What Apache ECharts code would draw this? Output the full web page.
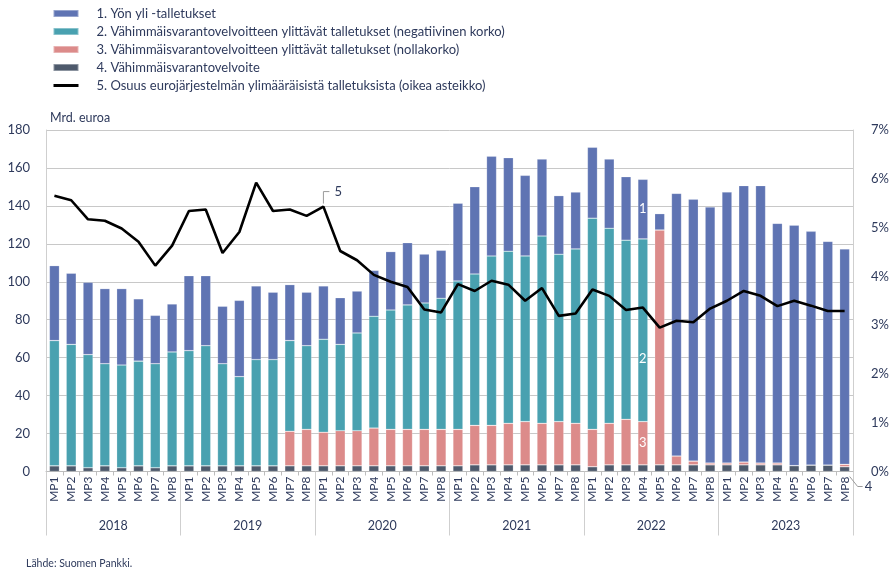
<!DOCTYPE html>
<html><head><meta charset="utf-8">
<script src="https://cdn.jsdelivr.net/npm/echarts@6/dist/echarts.min.js"></script>
<style>html,body{margin:0;padding:0;background:#fff}#c{width:892px;height:574px}</style>
</head><body><div id="c"></div>
<script>
const periods = ['MP1','MP2','MP3','MP4','MP5','MP6','MP7','MP8'];
const years = ['2018','2019','2020','2021','2022','2023'];
const categories = [];
years.forEach(function(){ periods.forEach(function(p){ categories.push(p); }); });

const seriesNames = [
  '1. Yön yli -talletukset',
  '2. Vähimmäisvarantovelvoitteen ylittävät talletukset (negatiivinen korko)',
  '3. Vähimmäisvarantovelvoitteen ylittävät talletukset (nollakorko)',
  '4. Vähimmäisvarantovelvoite',
  '5. Osuus eurojärjestelmän ylimääräisistä talletuksista (oikea asteikko)'
];

// 4. Reserve requirement (bn EUR)
const reserveReq = [
  3,3,2,3,2,3,2,3,
  3,3,3,3,3,3,3,3,
  3,3,3,3,3,3,3,3,
  3,3.5,3.5,3.5,3.5,3.5,3.5,3.5,
  2.5,3.5,3.5,3.5,3.5,3.5,3.5,3.5,
  3.5,3.5,3.5,3.5,3.1,3.4,3.4,2.5
];
// 3. Excess deposits, zero rate
const excessZero = [
  0,0,0,0,0,0,0,0,
  0,0,0,0,0,0,18.2,19.2,
  17.7,18.5,18.5,19.9,19.2,19.2,19.2,19.2,
  19.2,20.8,20.8,21.9,22.8,21.9,22.8,21.9,
  19.7,21.9,24.0,22.8,123.8,4.7,2.0,1.0,
  1.0,1.5,1.0,1.0,0,0,0,1.3
];
// 2. Excess deposits, negative rate
const excessNeg = [
  66,64,59.6,53.8,54.1,55.2,54.8,60,
  60.7,63.3,53.8,47,56,56,47.8,44.1,
  49,45.5,51.5,58.9,62.9,65.6,66.6,69.1,
  78.2,79.8,89.3,90.7,87.3,98.7,88.2,91.9,
  111.3,102.8,94.4,96.3,0,0,0,0,
  0,0,0,0,0,0,0,0
];
// 1. Overnight deposits
const overnight = [
  39.5,37.5,38.1,39.6,40.3,32.8,25.5,25.3,
  39.5,36.9,30.3,40.2,38.8,35.5,29.5,28.2,
  28.1,24.6,22.1,24.2,30.8,32.8,25.8,25.3,
  41,46,52.6,49.3,42.5,40.6,30.9,30,
  37.4,36.5,33.5,31.4,8.6,138.4,138,134.9,
  142.8,145.7,146.2,126.3,126.7,123.2,117.9,113.5
];
// 5. Share of Eurosystem excess deposits (%)
const share = [
  5.65,5.56,5.17,5.14,4.98,4.71,4.22,4.63,
  5.34,5.37,4.48,4.91,5.92,5.34,5.37,5.24,
  5.43,4.52,4.33,4.03,3.89,3.78,3.32,3.26,
  3.84,3.70,3.91,3.83,3.50,3.76,3.19,3.24,
  3.73,3.60,3.31,3.36,2.95,3.09,3.06,3.34,
  3.50,3.70,3.60,3.39,3.50,3.40,3.29,3.29
];
const leftTicks = {min:0, max:180, interval:20};
const rightTicks = {min:0, max:7, interval:1};

const colors = ['#5f74b3','#49a1b0','#dc8b8a','#4e5a6c','#000000'];
const txt = '#2e3a5c';
const font = 'Lato, "Open Sans", sans-serif';
const annIdx = 35;      // 2022 MP4 bar carries series numbers 1-3
const lineAnnIdx = 16;  // 2020 MP1 point carries series number 5

function withLabel(arr, idx, text, extra) {
  return arr.map(function(v,i){
    if (i !== idx) return v;
    return {value: v, label: Object.assign({show:true, formatter:text, color:'#fff', fontSize:13, fontFamily:font, position:'inside'}, extra||{})};
  });
}

const chart = echarts.init(document.getElementById('c'), null, {renderer:'canvas'});
const barBase = {type:'bar', stack:'a', barWidth:10, xAxisIndex:0, yAxisIndex:0, animation:false, z:2};
function bStyle(c){ return {color:c, borderColor:'rgba(255,255,255,0.35)', borderWidth:0.6}; }

chart.setOption({
  animation:false,
  textStyle:{fontFamily:font},
  title:[
    {text:'Mrd. euroa', left:45, top:106, textStyle:{fontSize:12.5, fontWeight:'normal', color:txt, fontFamily:font}},
    {text:'Lähde: Suomen Pankki.', left:21, top:553, textStyle:{fontSize:10.5, fontWeight:'normal', color:txt, fontFamily:font}}
  ],
  legend:{
    orient:'vertical', left:47, top:2, itemWidth:25, itemHeight:7, itemGap:5,
    textStyle:{fontSize:13, color:txt, fontFamily:font, padding:[0,0,0,13]},
    data:[
      {name:seriesNames[0], icon:'rect'},
      {name:seriesNames[1], icon:'rect'},
      {name:seriesNames[2], icon:'rect'},
      {name:seriesNames[3], icon:'rect'},
      {name:seriesNames[4], itemStyle:{opacity:0}, lineStyle:{color:'#000', width:3}}
    ]
  },
  grid:{left:46, right:26, top:130, bottom:102.5, containLabel:false},
  xAxis:[
    {type:'category', data:categories, position:'bottom',
     axisLine:{lineStyle:{color:'#bdbdbd', width:1}},
     axisTick:{show:true, interval:0, length:4, lineStyle:{color:'#bdbdbd'}},
     axisLabel:{interval:0, rotate:90, margin:5, fontSize:12, color:txt, fontFamily:font}},
    {type:'category', data:years, position:'bottom',
     axisLine:{show:false},
     axisTick:{show:true, length:64, lineStyle:{color:'#cfcfcf'}},
     axisLabel:{margin:48, fontSize:12.5, color:txt, fontFamily:font}}
  ],
  yAxis:[
    {type:'value', min:leftTicks.min, max:leftTicks.max, interval:leftTicks.interval,
     axisLine:{show:true, lineStyle:{color:'#cfcfcf'}}, axisTick:{show:false},
     splitLine:{lineStyle:{color:'#c8c8c8'}},
     axisLabel:{margin:16, fontSize:13, color:txt, fontFamily:font}},
    {type:'value', min:rightTicks.min, max:rightTicks.max, interval:rightTicks.interval,
     axisLine:{show:true, lineStyle:{color:'#cfcfcf'}}, axisTick:{show:false},
     splitLine:{show:false},
     axisLabel:{margin:18, fontSize:13, color:txt, fontFamily:font, formatter:'{value}%'}}
  ],
  series:[
    Object.assign({}, barBase, {name:seriesNames[3], data:reserveReq, color:colors[3], itemStyle:bStyle(colors[3])}),
    Object.assign({}, barBase, {name:seriesNames[2], data:withLabel(excessZero, annIdx, '3'), color:colors[2], itemStyle:bStyle(colors[2])}),
    Object.assign({}, barBase, {name:seriesNames[1], data:withLabel(excessNeg, annIdx, '2', {offset:[0,29]}), color:colors[1], itemStyle:bStyle(colors[1])}),
    Object.assign({}, barBase, {name:seriesNames[0], data:withLabel(overnight, annIdx, '1'), color:colors[0], itemStyle:bStyle(colors[0])}),
    {type:'line', name:seriesNames[4], yAxisIndex:1, xAxisIndex:0, z:5, symbol:'none', showSymbol:false,
     color:'#000', lineStyle:{color:'#000', width:2.6}, animation:false, data:share}
  ]
});

// Leader-line annotations placed from the chart's own scales
function annotate() {
  const p5 = chart.convertToPixel({xAxisIndex:0, yAxisIndex:1}, [lineAnnIdx, share[lineAnnIdx]]);
  const last = categories.length - 1;
  const p4 = chart.convertToPixel({xAxisIndex:0, yAxisIndex:0}, [last, 0]);
  chart.setOption({graphic:[
    {type:'polyline', silent:true, z:10, shape:{points:[[p5[0], p5[1]-3],[p5[0], p5[1]-15],[p5[0]+6, p5[1]-15]]},
     style:{stroke:'#9a9a9a', lineWidth:1, fill:null}},
    {type:'text', silent:true, z:10, x:p5[0]+11, y:p5[1]-15,
     style:{text:'5', fill:txt, font:'13px ' + font, textVerticalAlign:'middle', verticalAlign:'middle'}},
    {type:'polyline', silent:true, z:10, shape:{points:[[p4[0]+5, p4[1]+5],[p4[0]+13, p4[1]+15],[p4[0]+18, p4[1]+15]]},
     style:{stroke:'#9a9a9a', lineWidth:1, fill:null}},
    {type:'text', silent:true, z:10, x:p4[0]+20, y:p4[1]+15,
     style:{text:'4', fill:txt, font:'13px ' + font, textVerticalAlign:'middle', verticalAlign:'middle'}}
  ]});
}
annotate();
</script></body></html>
